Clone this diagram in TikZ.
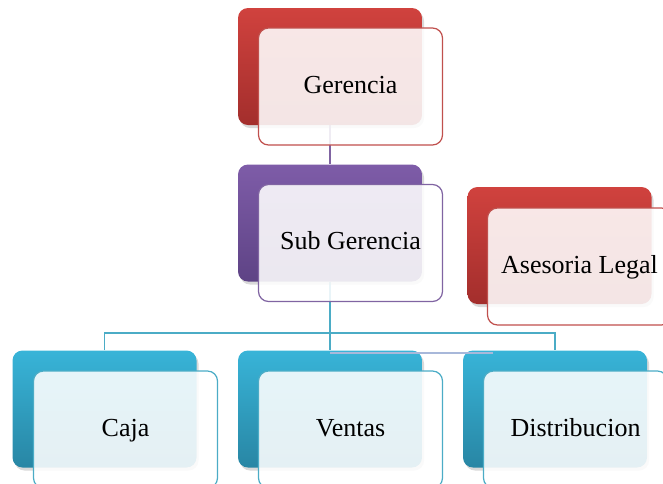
\documentclass[tikz,border=0pt]{standalone}
\usepackage{fontspec}
\setmainfont{Liberation Serif}
\usepackage{xcolor}
\usepackage{tikz}
\usetikzlibrary{shadows,backgrounds}

\definecolor{redTop}{HTML}{D0423E}
\definecolor{redBot}{HTML}{A32E2C}
\definecolor{redLine}{HTML}{C0504D}
\definecolor{purTop}{HTML}{7E5CA8}
\definecolor{purBot}{HTML}{5E4385}
\definecolor{purLine}{HTML}{8064A2}
\definecolor{aquaTop}{HTML}{38B4D8}
\definecolor{aquaBot}{HTML}{2886A4}
\definecolor{aquaLine}{HTML}{4BACC6}
\definecolor{assistLine}{HTML}{A8B8DA}

\begin{document}
\begin{tikzpicture}[x=0.5pt, y=-0.5pt,
  back/.style={rounded corners=5pt, minimum width=92pt, minimum height=58.5pt,
               inner sep=0pt, drop shadow={opacity=0.3, shadow xshift=1pt, shadow yshift=-1.5pt}},
  front/.style={draw, line width=0.6pt, rounded corners=5pt, fill=white, fill opacity=0.88,
                text opacity=1, minimum width=92pt, minimum height=58.5pt, inner sep=0pt,
                text height=9pt, text depth=2.5pt, font=\fontsize{13}{15}\selectfont},
  redbox/.style={back, top color=redTop, bottom color=redBot},
  purbox/.style={back, top color=purTop, bottom color=purBot},
  aquabox/.style={back, top color=aquaTop, bottom color=aquaBot},
  link/.style={line width=0.75pt}
]
\clip (0,0) rectangle (663,483);
\useasboundingbox (0,0) rectangle (663,483);

% back boxes
\node[redbox] (gerB) at (330,66.5) {};
\node[purbox] (subB) at (330,223) {};
\node[redbox] (aseB) at (559.5,245.5) {};
\node[aquabox] (cajB) at (104.5,409) {};
\node[aquabox] (venB) at (330,409) {};
\node[aquabox] (disB) at (555,409) {};

% front boxes
\node[front, draw=redLine] (ger) at (350.5,86.5) {Gerencia};
\node[front, draw=purLine] (sub) at (350.5,243) {Sub Gerencia};
\node[front, draw=redLine] (ase) at (579.5,266.5) {Asesoria Legal};
\node[front, draw=aquaLine] (caj) at (125.5,429.5) {Caja};
\node[front, draw=aquaLine] (ven) at (350.5,429.5) {Ventas};
\node[front, draw=aquaLine] (dis) at (575.5,429.5) {Distribucion};

\coordinate (bus) at (330,333);
\coordinate (aseIn) at (493,353);

% connectors
\begin{pgfonlayer}{background}
\draw[link, purLine] (gerB.south) -- (subB.north);
\draw[link, aquaLine] (subB.south) -- (venB.north);
\draw[link, aquaLine] (cajB.north) |- (bus) -| (disB.north);
\end{pgfonlayer}
\draw[link, assistLine] (subB.south |- aseIn) -- (aseIn);
\end{tikzpicture}
\end{document}
